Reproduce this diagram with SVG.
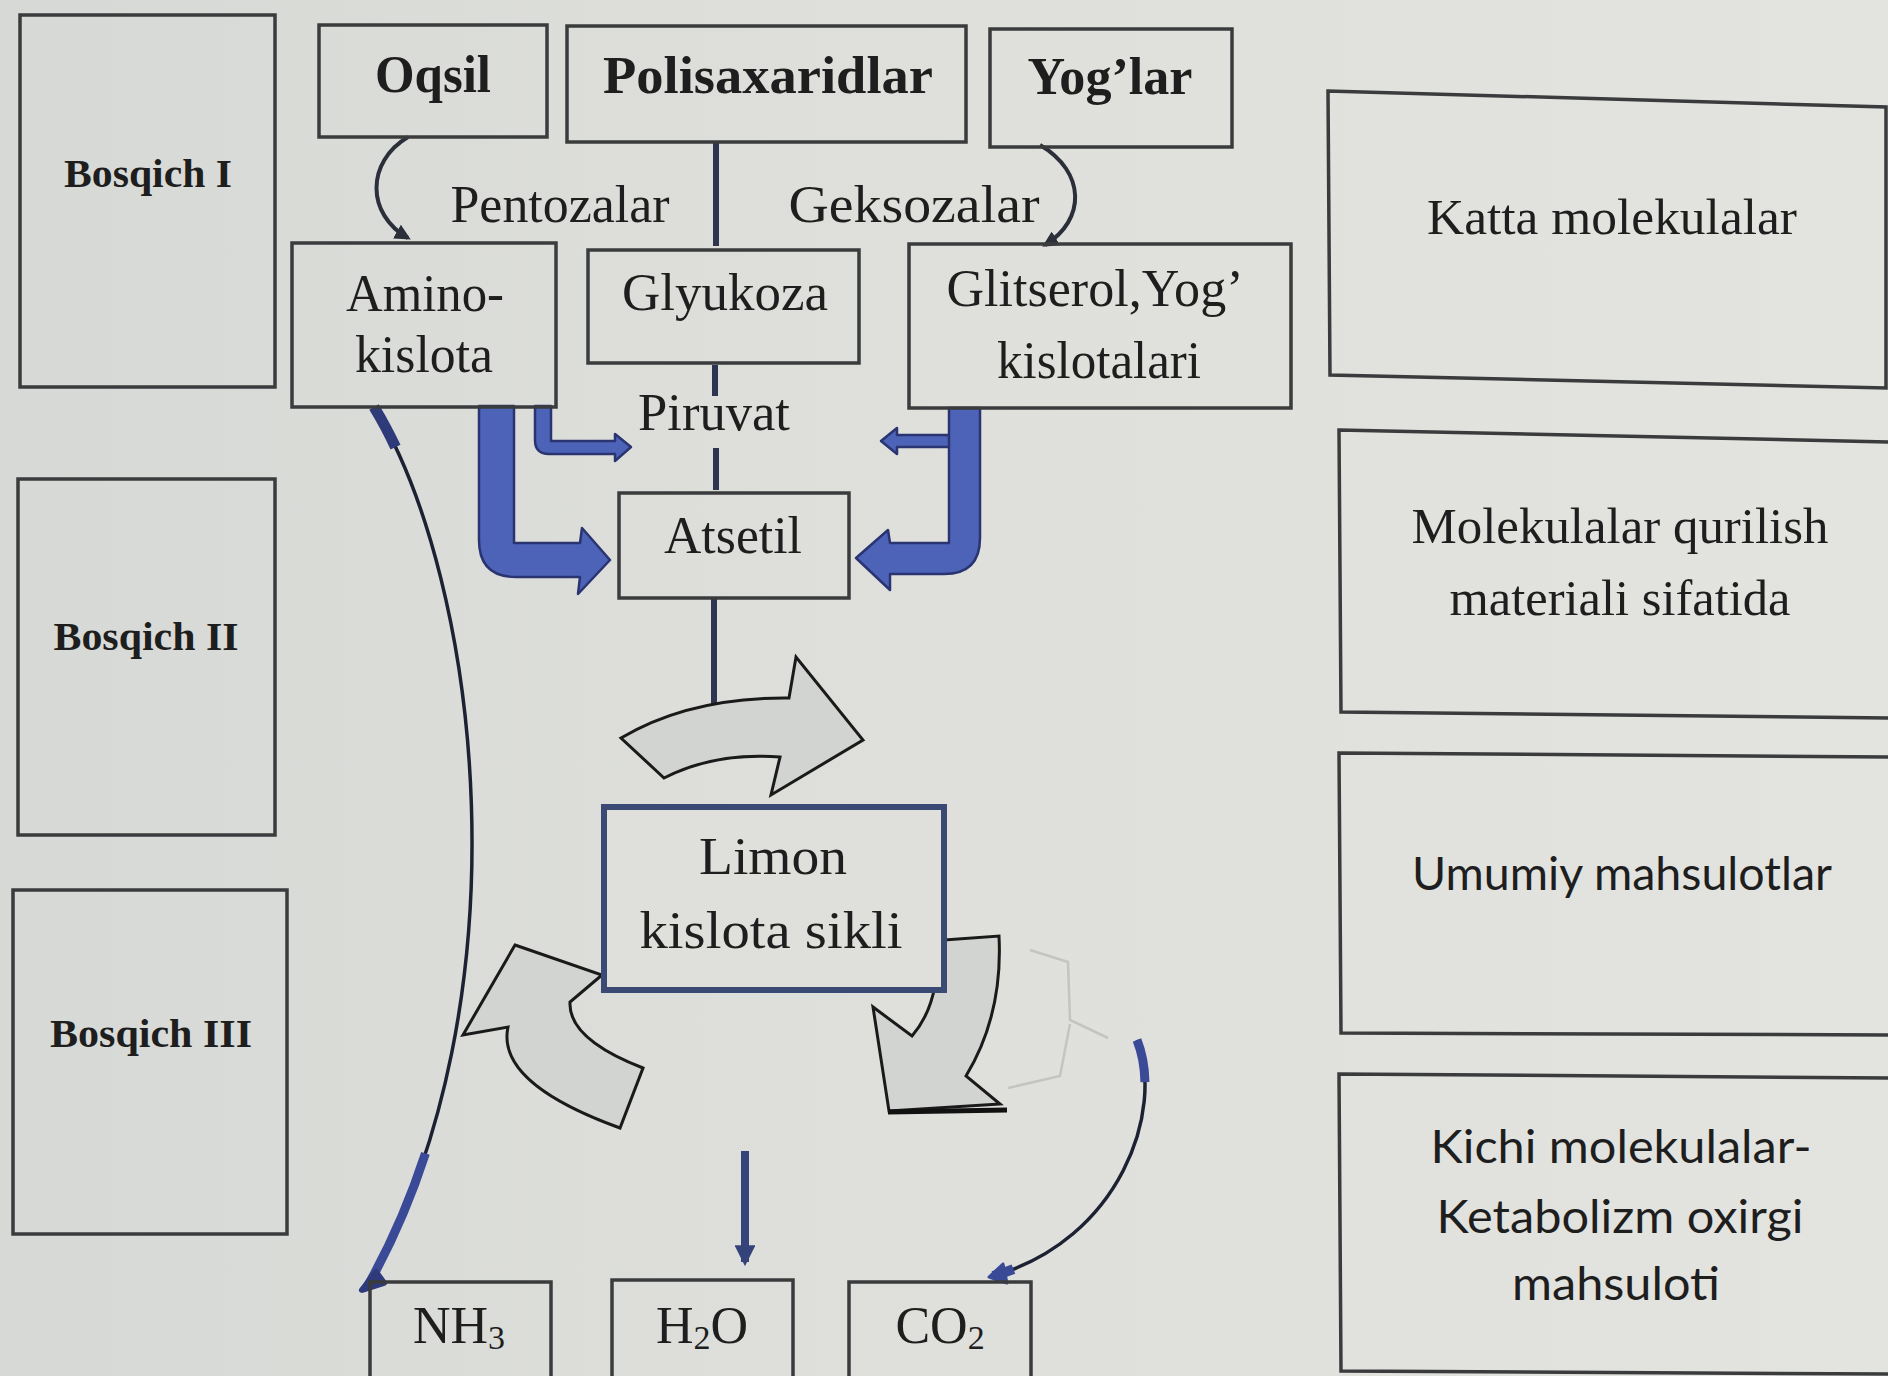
<svg xmlns="http://www.w3.org/2000/svg" width="1888" height="1376" viewBox="0 0 1888 1376">
<defs>
<linearGradient id="bg" x1="0" y1="0" x2="1" y2="0">
<stop offset="0" stop-color="#d7d9d6"/>
<stop offset="0.5" stop-color="#dfe0dc"/>
<stop offset="1" stop-color="#e3e4e0"/>
</linearGradient>
<marker id="ah" viewBox="0 0 10 10" refX="8" refY="5" markerWidth="4" markerHeight="4" orient="auto" markerUnits="strokeWidth">
<path d="M0,0 L10,5 L0,10 Z" fill="#2b2f3a"/>
</marker>
<marker id="ahb" viewBox="0 0 10 10" refX="8" refY="5" markerWidth="2.6" markerHeight="2.6" orient="auto" markerUnits="strokeWidth">
<path d="M0,0 L10,5 L0,10 Z" fill="#34447a"/>
</marker>
</defs>
<style>
.box{fill:none;stroke:#3a3b3d;stroke-width:3.5}
.t{font-family:"Liberation Serif","Times New Roman",serif;font-size:52px;fill:#1e1e1e;text-anchor:middle}
.b{font-weight:bold}
.st{font-family:"Liberation Serif","Times New Roman",serif;font-size:40px;font-weight:bold;fill:#1e1e1e;text-anchor:middle}
.rs{font-family:"Liberation Serif","Times New Roman",serif;font-size:50px;fill:#1e1e1e;text-anchor:middle}
.rn{font-family:Lato,"Liberation Sans",sans-serif;font-size:46px;fill:#1e1e1e;text-anchor:middle}
.blue{fill:#4d63b8;stroke:#2a3470;stroke-width:2.5;stroke-linejoin:round}
.grey{fill:#d2d4d1;stroke:#1a1a1a;stroke-width:3;stroke-linejoin:miter}
.thin{fill:none;stroke:#2b2f3a;stroke-width:4}
.navy{fill:none;stroke:#2e3550;stroke-width:6}
</style>
<rect x="0" y="0" width="1888" height="1376" fill="url(#bg)"/>

<g id="connectors">
<path d="M 408 137 C 366 162, 366 214, 408 238" class="thin" marker-end="url(#ah)"/>
<path d="M 716 142 L 716 246" class="navy"/>
<path d="M 1040 145 C 1086 172, 1086 220, 1045 245" class="thin" marker-end="url(#ah)"/>
<path d="M 715 365 L 715 396" class="navy" stroke-width="5"/>
<path d="M 716 448 L 716 490" class="navy" stroke-width="5"/>
<path d="M 714 599 L 714 708" class="navy" stroke="#2c3468"/>
<path d="M 745 1151 L 745 1262" fill="none" stroke="#34447a" stroke-width="8" marker-end="url(#ahb)"/>
<!-- NH3 curve -->
<path d="M 374 407 C 480 580, 530 1000, 367 1287" fill="none" stroke="#1d2233" stroke-width="3.5"/>
<path d="M 374 407 C 480 580, 530 1000, 367 1287" fill="none" stroke="#2e3a7a" stroke-width="11" pathLength="100" stroke-dasharray="5 95"/>
<path d="M 374 407 C 480 580, 530 1000, 367 1287" fill="none" stroke="#3a4a96" stroke-width="9" pathLength="100" stroke-dasharray="0 84 16 0"/>
<path d="M 376 1272 L 362 1290 L 384 1283 Z" fill="#2e3a7a" stroke="#2e3a7a" stroke-width="6" stroke-linejoin="round"/>
<!-- CO2 curve -->
<path d="M 1137 1040 C 1165 1110, 1120 1240, 993 1276" fill="none" stroke="#1d2233" stroke-width="3.5"/>
<path d="M 1137 1040 C 1165 1110, 1120 1240, 993 1276" fill="none" stroke="#3a4a96" stroke-width="9" pathLength="100" stroke-dasharray="14 86"/>
<path d="M 1137 1040 C 1165 1110, 1120 1240, 993 1276" fill="none" stroke="#3a4a96" stroke-width="10" pathLength="100" stroke-dasharray="0 93 7 0"/>
<path d="M 989 1277 L 1007 1283 L 1003 1264 Z" fill="#3a4a96" stroke="#3a4a96" stroke-width="3" stroke-linejoin="round"/>
<!-- blue block arrows -->
<path class="blue" d="M 535 406 L 535 440 Q 535 454 549 454 L 615 454 L 615 461 L 631 447 L 615 434 L 615 441 L 551 441 L 551 406 Z"/>
<path class="blue" d="M 479 406 L 479 540 Q 479 577 516 577 L 580 577 L 578 594 L 610 560 L 582 528 L 580 543 L 514 543 L 514 406 Z"/>
<path class="blue" d="M 952 435 L 897 435 L 897 428 L 881 441 L 897 454 L 897 447 L 952 447 Z"/>
<path class="blue" d="M 980 408 L 980 538 Q 980 574 944 574 L 890 574 L 890 590 L 856 558 L 888 530 L 890 543 L 949 543 L 949 408 Z"/>
<!-- grey cycle arrows -->
<path class="grey" d="M 621 738 Q 690 697 789 698 L 796 657 L 863 740 L 771 795 L 780 757 Q 715 752 664 778 Z"/>
<path class="grey" d="M 515 945 L 602 975 L 570 1002 Q 568 1039 643 1068 L 620 1128 Q 496 1083 508 1027 L 463 1035 Z"/>
<path class="grey" d="M 930 941 L 999 936 Q 1003 1015 966 1076 L 1000 1104 L 889 1111 L 873 1007 L 912 1036 Q 930 1015 935 985 L 930 941 Z"/>
<path d="M 888 1112 L 1007 1110" stroke="#111" stroke-width="5"/>
<path d="M 1030 950 L 1068 962 L 1070 1020 L 1108 1038 M 1070 1024 L 1060 1076 L 1008 1088" fill="none" stroke="#c3c5c1" stroke-width="2.5"/>
</g>

<g id="stage1"><rect class="box" x="20" y="15" width="255" height="372"/><text class="st" x="148" y="187" font-size="38" textLength="168" lengthAdjust="spacingAndGlyphs">Bosqich I</text></g>
<g id="stage2"><rect class="box" x="18" y="479" width="257" height="356"/><text class="st" x="146" y="650" textLength="185" lengthAdjust="spacingAndGlyphs">Bosqich II</text></g>
<g id="stage3"><rect class="box" x="13" y="890" width="274" height="344"/><text class="st" x="151" y="1047" textLength="202" lengthAdjust="spacingAndGlyphs">Bosqich III</text></g>

<g id="oqsil"><rect class="box" x="319" y="25" width="228" height="112"/><text class="t b" x="433" y="92" textLength="116" lengthAdjust="spacingAndGlyphs">Oqsil</text></g>
<g id="polisaxaridlar"><rect class="box" x="567" y="26" width="399" height="116"/><text class="t b" x="768" y="93" textLength="330" lengthAdjust="spacingAndGlyphs">Polisaxaridlar</text></g>
<g id="yoglar"><rect class="box" x="990" y="29" width="242" height="118"/><text class="t b" x="1110" y="94" textLength="165" lengthAdjust="spacingAndGlyphs">Yog’lar</text></g>

<g id="pentozalar"><text class="t" x="560" y="222" textLength="219" lengthAdjust="spacingAndGlyphs">Pentozalar</text></g>
<g id="geksozalar"><text class="t" x="914" y="222" textLength="251" lengthAdjust="spacingAndGlyphs">Geksozalar</text></g>

<g id="aminokislota"><rect class="box" x="292" y="243" width="264" height="164"/><text class="t" x="425" y="311" textLength="158" lengthAdjust="spacingAndGlyphs">Amino-</text><text class="t" x="424" y="372" textLength="138" lengthAdjust="spacingAndGlyphs">kislota</text></g>
<g id="glyukoza"><rect class="box" x="588" y="250" width="271" height="113"/><text class="t" x="725" y="310" textLength="206" lengthAdjust="spacingAndGlyphs">Glyukoza</text></g>
<g id="glitserol"><rect class="box" x="909" y="244" width="382" height="164"/><text class="t" x="1095" y="306" textLength="297" lengthAdjust="spacingAndGlyphs">Glitserol,Yog’</text><text class="t" x="1099" y="378" textLength="204" lengthAdjust="spacingAndGlyphs">kislotalari</text></g>

<g id="piruvat"><text class="t" x="714" y="430" textLength="152" lengthAdjust="spacingAndGlyphs">Piruvat</text></g>
<g id="atsetil"><rect class="box" x="619" y="493" width="230" height="105" fill="#dfe0dc"/><text class="t" x="733" y="553" textLength="138" lengthAdjust="spacingAndGlyphs">Atsetil</text></g>

<g id="limon"><rect x="604" y="807" width="340" height="183" fill="#dfe0dc" stroke="#3b4a75" stroke-width="6"/><text class="t" x="773" y="874" textLength="148" lengthAdjust="spacingAndGlyphs">Limon</text><text class="t" x="771" y="948" textLength="263" lengthAdjust="spacingAndGlyphs">kislota sikli</text></g>

<g id="nh3"><rect class="box" x="370" y="1282" width="181" height="110"/><text class="t" x="459" y="1343">NH<tspan font-size="34" dy="6">3</tspan></text></g>
<g id="h2o"><rect class="box" x="612" y="1280" width="181" height="110"/><text class="t" x="702" y="1343">H<tspan font-size="34" dy="6">2</tspan><tspan dy="-6">O</tspan></text></g>
<g id="co2"><rect class="box" x="849" y="1282" width="182" height="110"/><text class="t" x="940" y="1343">CO<tspan font-size="34" dy="6">2</tspan></text></g>

<g id="katta"><polygon class="box" points="1328,91 1886,107 1886,388 1330,375"/><text class="rs" x="1612" y="234" textLength="370" lengthAdjust="spacingAndGlyphs">Katta molekulalar</text></g>
<g id="qurilish"><polygon class="box" points="1339,430 1892,442 1892,718 1341,712"/><text class="rs" x="1620" y="543" textLength="417" lengthAdjust="spacingAndGlyphs">Molekulalar qurilish</text><text class="rs" x="1620" y="615" textLength="341" lengthAdjust="spacingAndGlyphs">materiali sifatida</text></g>
<g id="umumiy"><polygon class="box" points="1339,753 1892,757 1892,1035 1341,1033"/><text class="rn" x="1622" y="890" textLength="420" lengthAdjust="spacingAndGlyphs">Umumiy mahsulotlar</text></g>
<g id="kichi"><polygon class="box" points="1339,1074 1892,1078 1892,1374 1341,1371"/><text class="rn" x="1621" y="1163" textLength="381" lengthAdjust="spacingAndGlyphs">Kichi molekulalar-</text><text class="rn" x="1620" y="1233" textLength="367" lengthAdjust="spacingAndGlyphs">Ketabolizm oxirgi</text><text class="rn" x="1616" y="1300" textLength="208" lengthAdjust="spacingAndGlyphs">mahsuloti</text></g>
</svg>
